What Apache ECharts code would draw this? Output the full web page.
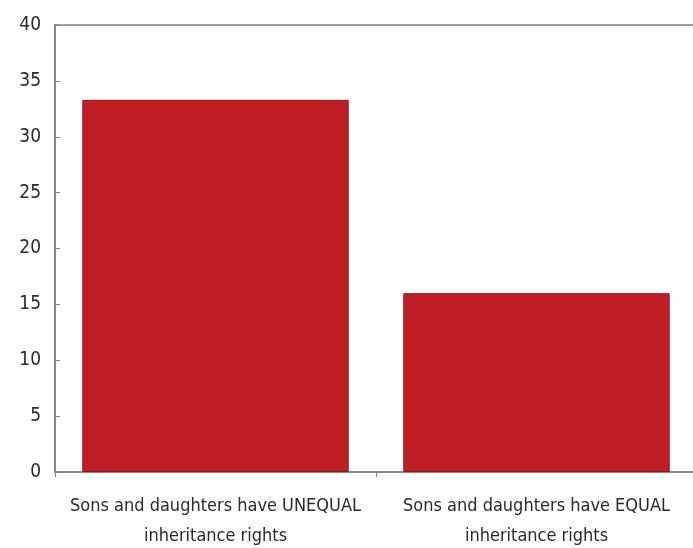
<!DOCTYPE html>
<html>
<head>
<meta charset="utf-8">
<script src="https://cdn.jsdelivr.net/npm/echarts@6/dist/echarts.min.js"></script>
<style>
  html, body { margin: 0; padding: 0; background: #ffffff; overflow: hidden; }
  #chart { width: 693px; height: 548px; }
</style>
</head>
<body>
<div id="chart"></div>
<script>
// Inheritance-rights categories and their values
const categories = [
  'Sons and daughters have UNEQUAL\ninheritance rights',
  'Sons and daughters have EQUAL\ninheritance rights'
];
const values = [33.3, 16.0];
const yTicks = { min: 0, max: 40, interval: 5 };

const chart = echarts.init(document.getElementById('chart'), null, { renderer: 'canvas' });
const axisGrey = '#7f7f7f';
const labelFont = '"Liberation Sans Narrow", "DejaVu Sans Condensed", sans-serif';

chart.setOption({
  animation: false,
  backgroundColor: '#ffffff',
  grid: {
    left: 55, width: 642, top: 25, bottom: 76,
    outerBoundsMode: 'none',
    containLabel: false,
    show: true, borderColor: axisGrey, borderWidth: 1.5, backgroundColor: 'transparent'
  },
  xAxis: {
    type: 'category',
    data: categories,
    axisLine: { lineStyle: { color: axisGrey, width: 1.5 } },
    axisTick: { show: true, interval: 0, length: 5, inside: false, lineStyle: { color: axisGrey } },
    axisLabel: {
      interval: 0,
      color: '#2a2a2a',
      fontFamily: labelFont,
      fontSize: 18,
      lineHeight: 30,
      margin: 19
    },
    splitLine: { show: false }
  },
  yAxis: {
    type: 'value',
    min: yTicks.min, max: yTicks.max, interval: yTicks.interval,
    axisLine: { show: true, lineStyle: { color: axisGrey, width: 1.5 } },
    axisTick: { show: true, inside: true, length: 5, lineStyle: { color: axisGrey } },
    axisLabel: {
      color: '#2a2a2a',
      fontFamily: labelFont,
      fontSize: 19,
      margin: 14
    },
    splitLine: { show: false }
  },
  series: [{
    type: 'bar',
    data: values,
    barCategoryGap: '17%',
    itemStyle: { color: '#be1e24', borderColor: '#8e1a1e', borderWidth: 1 }
  }]
});
</script>
</body>
</html>
